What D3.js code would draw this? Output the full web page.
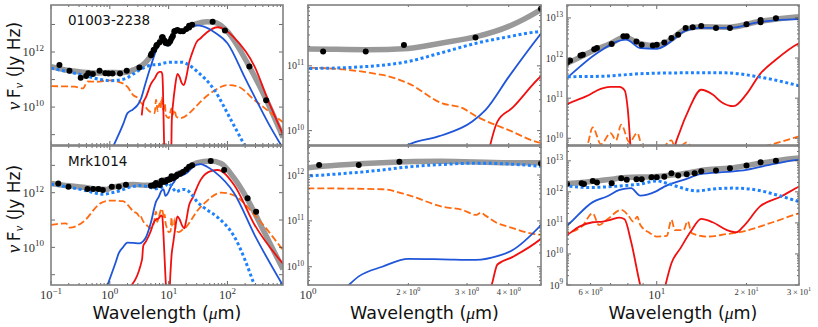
<!DOCTYPE html>
<html><head><meta charset="utf-8">
<script src="https://cdn.jsdelivr.net/npm/d3@7"></script>
<style>body{margin:0;background:#fff}</style>
</head><body><svg id="c" width="818" height="327"></svg>
<script>
// ---------------- data: 01003-2238 ----------------
const g1TotalWl = [0.1,0.2,0.35,0.6,1.0,1.5,2.0,2.5,3.2,4.0,5.0,6.2,7.0,7.8,8.8,10,11,12.5,14,17.6,22,30,45,60,100,220,460,880];
const g1Total   = [2.95e11,2.14e11,1.86e11,1.74e11,1.82e11,1.78e11,1.86e11,2.24e11,2.82e11,4.07e11,7.41e11,1.58e12,2.29e12,3.31e12,2.29e12,2.04e12,2.69e12,5.25e12,6.03e12,5.89e12,8.13e12,1.07e13,1.26e13,1.2e13,5.5e12,3.89e11,1.78e10,7.94e8];
const g1DiskWl  = [0.1,0.2,0.35,0.7,1.0,1.6,2.0,2.5,3.2,4.0,5.0,6.8,8.8,12,17,22,30,60,115,220];
const g1Disk    = [2.57e11,1.91e11,1.45e11,1.0e11,9.12e10,1.0e11,1.17e11,1.58e11,2.24e11,2.82e11,3.39e11,3.55e11,4.07e11,4.27e11,4.27e11,3.39e11,2.04e11,4.17e10,3.39e9,2.51e8];
const g1TorusWl = [1.1,1.7,2.0,2.46,3.11,3.41,4.0,5.0,6.3,7.9,8.8,10,12.6,14,17.6,22.2,30,40,60,100,200,290,500,880];
const g1Torus   = [3.16e8,2.51e9,6.03e9,8.13e9,1.38e10,2.09e10,6.76e10,3.16e11,1.32e12,2.88e12,1.78e12,1.7e12,4.9e12,5.62e12,5.62e12,7.94e12,9.33e12,8.32e12,5.25e12,2.09e12,1.12e11,2.34e10,2.51e9,3.16e8];
const g1SbWl    = [3.49,3.7,4.1,5.0,5.97,6.3,7.0,7.5,7.8,8.0,8.2,8.6,11.0,11.3,12.0,12.8,14.1,15.4,16.5,18.1,20,22.2,25,30,35,45,68,90,125,290,480,880];
const g1Sb      = [5.01e9,1.38e10,2.24e10,6.92e10,1.23e11,1.55e11,1.91e11,1.91e11,1.58e11,5.01e10,3.98e9,1e8,1e8,3.16e9,1.58e10,5.13e10,1.62e11,1.23e11,7.94e10,6.31e10,1.26e11,3.98e11,8.91e11,2.34e12,3.16e12,5.25e12,7.94e12,6.61e12,3.63e12,2.95e11,2.0e10,1.0e9];
const g1HostWl  = [0.1,0.25,0.35,0.42,0.6,1.0,1.67,2.0,2.53,2.9,3.2,4.0,5.0,5.8,6.1,6.5,7.0,7.3,7.6,8.1,8.6,9.0,10,11.2,11.6,12.6,13.5,16,23,30,35,60,100,150,290,880];
const g1Host    = [5.75e10,5.5e10,4.79e10,8.51e10,8.32e10,9.33e10,7.24e10,5.37e10,2.63e10,2.24e10,1.66e10,1.02e10,6.46e9,6.03e9,1.86e10,7.08e9,1.35e10,8.91e9,2.19e10,7.94e9,1.35e10,5.01e9,3.98e9,8.91e9,5.01e9,7.94e9,4.47e9,3.98e9,6.31e9,1.12e10,1.58e10,3.98e10,6.31e10,5.62e10,1.78e10,2.82e9];
const g1ObsWl   = [0.139,0.206,0.32,0.396,0.43,0.515,0.67,0.84,0.95,1.11,1.49,1.94,3.18,5.0,5.12,5.55,5.65,6.17,6.3,7.06,7.73,7.93,8.55,8.9,9.7,10.0,10.6,11.2,11.8,12.5,13.2,14.1,15.8,17.6,20,22.3,22.3,25.1,56,90.6,236,455];
const g1Obs     = [3.39e11,2.09e11,1.17e11,1.35e11,1.7e11,1.58e11,2.09e11,1.7e11,1.66e11,1.66e11,1.66e11,2.09e11,2.75e11,7.59e11,8.71e11,1.15e12,1.2e12,1.66e12,1.78e12,2.24e12,3.47e12,3.47e12,2.57e12,2.14e12,2.04e12,2.14e12,2.45e12,3.16e12,3.8e12,5.62e12,5.89e12,6.31e12,5.62e12,5.62e12,6.92e12,7.76e12,8.91e12,9.77e12,1.26e13,6.03e12,2.95e11,1.78e10];

// ---------------- data: Mrk1014 ----------------
const g2TotalWl = [0.1,0.2,0.35,0.6,0.9,1.0,1.67,2.5,4.0,5.0,6.8,7.9,9.7,12,14.7,18.1,22.2,30,52,78,130,220,420,880];
const g2Total   = [2.19e12,1.78e12,1.58e12,1.35e12,1.32e12,1.45e12,1.86e12,2.0e12,1.86e12,1.86e12,2.45e12,2.88e12,3.09e12,3.72e12,5.13e12,6.03e12,8.32e12,1.23e13,1.45e13,1.17e13,3.39e12,5.62e11,3.72e10,1.58e9];
const g2DiskWl  = [0.1,0.35,0.78,1.0,1.67,2.0,2.53,3.2,4.0,5.0,5.9,7.7,8.8,10,10.8,12,13.6,15.4,18.1,21.6,25.3,30,40,68,130,300];
const g2Disk    = [2.04e12,1.26e12,8.71e11,9.55e11,1.29e12,1.51e12,1.7e12,1.82e12,1.74e12,1.55e12,1.38e12,1.58e12,1.78e12,2.24e12,1.91e12,1.38e12,1.07e12,1.23e12,1.32e12,1.15e12,7.94e11,4.9e11,2.82e11,1.26e11,2.51e10,3.16e8];
const g2TorusWl = [0.87,1.28,1.42,1.67,2.0,2.53,3.18,3.74,4.1,5.0,6.1,6.8,7.5,8.2,8.8,9.9,10.6,12.6,14,17.2,20,24.5,30,35,45,60,130,290,880];
const g2Torus   = [3.16e8,3.16e9,6.17e9,1.0e10,1.48e10,1.45e10,1.41e10,1.74e10,2.29e10,8.13e10,4.68e11,7.08e11,1.15e12,1.32e12,7.59e11,1.02e12,1.48e12,2.63e12,3.72e12,4.37e12,5.13e12,7.76e12,1.07e13,1.1e13,8.91e12,5.89e12,9.55e11,2.82e10,3.98e8];
const g2SbWl    = [2.1,3.53,3.7,4.1,5.0,5.5,6.1,6.6,7.0,7.5,7.8,8.2,8.8,9.2,10.3,10.7,11.2,12,13,14.1,15.4,17.2,18.5,19.5,22.2,26.1,30,35,52,68,130,290,880];
const g2Sb      = [3.16e8,3.55e9,1.12e10,1.62e10,4.07e10,7.59e10,1.05e11,1.1e11,1.26e11,1.48e11,1.32e11,2.51e10,1e9,2.0e8,2.0e8,1e9,5.01e9,1.51e10,5.25e10,1.35e11,1.05e11,5.89e10,5.01e10,7.59e10,3.39e11,7.08e11,1.48e12,2.95e12,6.17e12,6.76e12,1.91e12,6.61e10,2.51e9];
const g2HostWl  = [0.1,0.18,0.21,0.355,0.69,1.0,1.67,2.0,2.53,2.9,3.2,3.3,3.4,3.7,4.0,5.0,5.6,6.1,6.4,6.8,7.6,8.0,8.35,8.6,8.8,9.5,10,10.8,11.2,11.5,12.3,12.7,13.1,14.7,17.2,19,24.5,30,40,78,130,290,880];
const g2Host    = [6.61e10,7.59e10,5.25e10,8.71e10,4.07e11,5.13e11,4.9e11,3.63e11,2.04e11,1.74e11,1.35e11,1.51e11,1.32e11,8.91e10,7.41e10,5.01e10,7.59e10,2.04e11,8.51e10,1.26e11,2.63e11,1.82e11,1.1e11,1.58e11,8.71e10,4.68e10,3.63e10,3.8e10,1.26e11,5.89e10,5.89e10,1.15e11,4.68e10,3.63e10,4.37e10,5.01e10,1.05e11,2.04e11,3.98e11,1.0e12,7.94e11,1.51e11,7.94e9];
const g2ObsWl   = [0.133,0.198,0.417,0.52,0.64,0.76,1.08,1.42,1.88,5.0,5.6,5.7,6.1,6.3,7.06,7.6,7.93,8.55,8.9,9.6,10.0,10.6,11.2,11.8,12.6,13.4,14.1,15.8,17.6,20,22.3,25.1,52,87.8,220,307];
const g2Obs     = [2.19e12,1.66e12,1.35e12,1.35e12,1.35e12,1.26e12,1.66e12,1.66e12,1.95e12,1.78e12,1.91e12,1.78e12,2.24e12,2.0e12,1.91e12,2.75e12,2.45e12,2.57e12,2.57e12,2.95e12,2.95e12,3.09e12,3.98e12,3.39e12,3.72e12,3.98e12,4.57e12,4.9e12,5.75e12,7.08e12,8.91e12,1.0e13,1.45e13,6.76e12,6.31e11,2.0e11];

const galaxyNames = ["01003-2238", "Mrk1014"];

// axis domains / tick labels
const xDomains = [[0.1, 880], [1, 5], [5, 30]];
const yDomains = [
  [[4.2e8, 5.1e13], [6e9, 8.7e11], [6.8e9, 2.1e13]],
  [[4.2e8, 5.1e13], [4e9, 4.3e12], [1e9, 3e13]]
];
const yLabelExps = [
  [[10, 12], [10, 11], [10, 11, 12, 13]],
  [[10, 12], [10, 11, 12], [9, 10, 11, 12, 13]]
];
const xTickLabels = [
  [{v:0.1,m:"",e:"−1",big:true},{v:1,m:"",e:"0",big:true},{v:10,m:"",e:"1",big:true},{v:100,m:"",e:"2",big:true}],
  [{v:1,m:"",e:"0",big:true},{v:2,m:"2",e:"0"},{v:3,m:"3",e:"0"},{v:4,m:"4",e:"0"}],
  [{v:6,m:"6",e:"0"},{v:10,m:"",e:"1",big:true},{v:20,m:"2",e:"1"},{v:30,m:"3",e:"1"}]
];

// ---------------- layout ----------------
const cols = [{x0:51,x1:283},{x0:308,x1:541},{x0:567,x1:799}];
const rows = [{y0:5,y1:145},{y0:146,y1:285}];
const tickFont = "'Liberation Serif', 'Times New Roman', serif";
const sansFont = "'DejaVu Sans', sans-serif";

const zip = (a, b) => a.map((v, i) => [v, b[i]]);
const galaxies = [
  {total:zip(g1TotalWl,g1Total), disk:zip(g1DiskWl,g1Disk), torus:zip(g1TorusWl,g1Torus), sb:zip(g1SbWl,g1Sb), host:zip(g1HostWl,g1Host), obs:zip(g1ObsWl,g1Obs)},
  {total:zip(g2TotalWl,g2Total), disk:zip(g2DiskWl,g2Disk), torus:zip(g2TorusWl,g2Torus), sb:zip(g2SbWl,g2Sb), host:zip(g2HostWl,g2Host), obs:zip(g2ObsWl,g2Obs)}
];

const svg = d3.select("#c");
const defs = svg.append("defs");

function logTicks(lo, hi) {
  const out = [];
  for (let e = Math.floor(Math.log10(lo)) - 1; e <= Math.ceil(Math.log10(hi)); e++)
    for (let m = 1; m < 10; m++) {
      const v = m * Math.pow(10, e);
      if (v >= lo * 0.9999 && v <= hi * 1.0001) out.push({v, major: m === 1});
    }
  return out;
}

function powText(sel, mant, exp, size) {
  if (mant) sel.append("tspan").text(mant + "\u2009×\u200910");
  else sel.append("tspan").text("10");
  sel.append("tspan").attr("dy", -size * 0.42).attr("font-size", size * 0.72).text(exp);
}

for (let r = 0; r < 2; r++) {
  for (let c = 0; c < 3; c++) {
    const {x0, x1} = cols[c], {y0, y1} = rows[r];
    const xs = d3.scaleLog().domain(xDomains[c]).range([x0, x1]);
    const ys = d3.scaleLog().domain(yDomains[r][c]).range([y1, y0]);
    const id = `clip${r}${c}`;
    defs.append("clipPath").attr("id", id).append("rect")
      .attr("x", x0).attr("y", y0).attr("width", x1 - x0).attr("height", y1 - y0);
    const g = svg.append("g");
    const plot = g.append("g").attr("clip-path", `url(#${id})`);
    const gal = galaxies[r];
    const line = d3.line().x(d => xs(d[0])).y(d => ys(d[1])).curve(d3.curveMonotoneX);

    plot.append("path").attr("d", line(gal.total)).attr("fill", "none")
      .attr("stroke", "#999").attr("stroke-width", 5.5).attr("stroke-linejoin", "round");
    plot.append("path").attr("d", line(gal.host)).attr("fill", "none")
      .attr("stroke", "#ff6a10").attr("stroke-width", 1.8).attr("stroke-dasharray", "7,3");
    plot.append("path").attr("d", line(gal.sb)).attr("fill", "none")
      .attr("stroke", "#f01010").attr("stroke-width", 1.8);
    plot.append("path").attr("d", line(gal.torus)).attr("fill", "none")
      .attr("stroke", "#1f55d8").attr("stroke-width", 1.8);
    plot.append("path").attr("d", line(gal.disk)).attr("fill", "none")
      .attr("stroke", "#1e82ff").attr("stroke-width", 3).attr("stroke-dasharray", "3,2.6");
    plot.selectAll("circle").data(gal.obs).join("circle")
      .attr("cx", d => xs(d[0])).attr("cy", d => ys(d[1])).attr("r", 3).attr("fill", "#000");

    // ticks
    const tk = g.append("g").attr("stroke", "#444").attr("stroke-width", 0.8);
    const xt = logTicks(...xDomains[c]);
    xt.forEach(t => {
      const x = xs(t.v), L = t.major ? 4 : 2;
      tk.append("line").attr("x1", x).attr("x2", x).attr("y1", y1).attr("y2", y1 - L);
      tk.append("line").attr("x1", x).attr("x2", x).attr("y1", y0).attr("y2", y0 + L);
    });
    const yt = logTicks(...yDomains[r][c]).filter(t => c > 0 || t.major);
    yt.forEach(t => {
      const y = ys(t.v), L = t.major ? 4 : 2;
      tk.append("line").attr("x1", x0).attr("x2", x0 + L).attr("y1", y).attr("y2", y);
      tk.append("line").attr("x1", x1).attr("x2", x1 - L).attr("y1", y).attr("y2", y);
    });

    // frame
    g.append("rect").attr("x", x0).attr("y", y0).attr("width", x1 - x0).attr("height", y1 - y0)
      .attr("fill", "none").attr("stroke", "#808080").attr("stroke-width", 1.6);

    // y labels
    const ysz = c === 0 ? 12.5 : 10;
    yLabelExps[r][c].forEach(e => {
      const t = g.append("text").attr("x", x0 - (c === 0 ? 7 : 4)).attr("y", ys(Math.pow(10, e)) + ysz * 0.35)
        .attr("text-anchor", "end").attr("font-family", tickFont).attr("font-size", ysz).attr("fill", "#333");
      powText(t, "", String(e), ysz);
    });

    // x labels (bottom row only)
    if (r === 1) {
      xTickLabels[c].forEach(l => {
        const sz = l.big ? 12.5 : 8.5;
        const t = g.append("text").attr("x", xs(l.v)).attr("y", y1 + (l.big ? 14 : 10))
          .attr("text-anchor", "middle").attr("font-family", tickFont).attr("font-size", sz).attr("fill", "#333");
        powText(t, l.m, l.e, sz);
      });
      const xl = svg.append("text").attr("x", (x0 + x1) / 2).attr("y", 319)
        .attr("text-anchor", "middle").attr("font-family", sansFont).attr("font-size", 17.5).attr("fill", "#111");
      xl.append("tspan").text("Wavelength (");
      xl.append("tspan").attr("font-family", tickFont).attr("font-style", "italic").text("μ");
      xl.append("tspan").text("m)");
    }

    if (c === 0) {
      svg.append("text").attr("x", x0 + 17).attr("y", y0 + 20).attr("font-family", sansFont)
        .attr("font-size", 13.5).attr("fill", "#111").text(galaxyNames[r]);
      const cy = r === 0 ? 66 : 209;
      const yl = svg.append("text").attr("transform", `translate(20,${cy}) rotate(-90)`)
        .attr("text-anchor", "middle").attr("font-family", sansFont).attr("font-size", 17).attr("fill", "#111");
      yl.append("tspan").attr("font-family", tickFont).attr("font-style", "italic").attr("font-size", 19).text("ν");
      yl.append("tspan").text("\u2009F");
      yl.append("tspan").attr("font-family", tickFont).attr("font-style", "italic").attr("font-size", 13).attr("dy", 3).text("ν");
      yl.append("tspan").attr("dy", -3).text(" (Jy Hz)");
    }
  }
}
</script>
</body></html>
